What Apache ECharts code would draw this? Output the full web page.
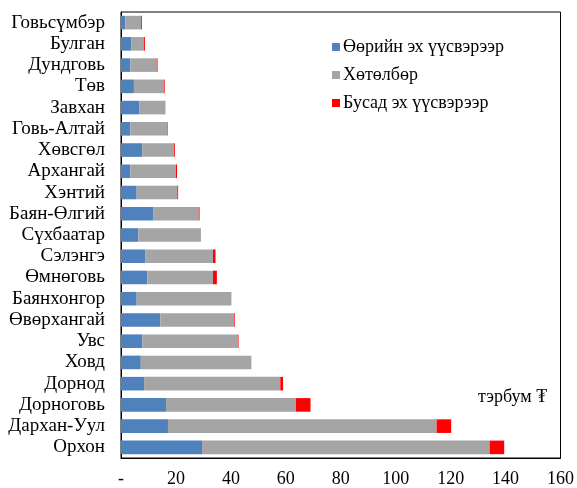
<!DOCTYPE html>
<html>
<head>
<meta charset="utf-8">
<script src="https://cdn.jsdelivr.net/npm/echarts@6/dist/echarts.min.js"></script>
<style>
  body { margin: 0; background: #fff; }
</style>
</head>
<body>
<div id="chart" style="width:577px;height:488px;"></div>
<script>
  // aimag names, top to bottom
  var aimags = ['Говьсүмбэр', 'Булган', 'Дундговь', 'Төв', 'Завхан', 'Говь-Алтай', 'Хөвсгөл',
    'Архангай', 'Хэнтий', 'Баян-Өлгий', 'Сүхбаатар', 'Сэлэнгэ', 'Өмнөговь', 'Баянхонгор',
    'Өвөрхангай', 'Увс', 'Ховд', 'Дорнод', 'Дорноговь', 'Дархан-Уул', 'Орхон'];
  var ownSource = [1.6, 3.7, 3.4, 4.7, 6.6, 3.4, 7.7, 3.4, 5.7, 11.7, 6.3, 8.9, 9.6, 5.7, 14.3, 7.8, 7.2, 8.4, 16.4, 17.1, 29.5];
  var program = [5.7, 4.6, 9.6, 10.9, 9.6, 13.4, 11.6, 16.6, 14.8, 16.6, 22.8, 24.6, 23.9, 34.5, 26.8, 34.8, 40.1, 49.6, 47.3, 97.8, 104.7];
  var otherSource = [0.3, 0.4, 0.3, 0.3, 0, 0.2, 0.3, 0.4, 0.3, 0.3, 0, 0.9, 1.4, 0, 0.3, 0.2, 0.1, 1.0, 5.3, 5.3, 5.3];
  var seriesNames = ['Өөрийн эх үүсвэрээр', 'Хөтөлбөр', 'Бусад эх үүсвэрээр'];
  var colors = ['#4F81BD', '#A5A5A5', '#FF0000'];

  var font = 'Liberation Serif';
  var chart = echarts.init(document.getElementById('chart'));

  var seriesData = [ownSource, program, otherSource];
  var seriesList = [];
  for (var i = 0; i < seriesNames.length; i++) {
    seriesList.push({
      type: 'bar',
      name: seriesNames[i],
      stack: 'total',
      data: seriesData[i],
      barCategoryGap: '36%',
      itemStyle: { color: colors[i] }
    });
  }

  chart.setOption({
    animation: false,
    color: colors,
    grid: {
      left: 121, right: 14, top: 12, bottom: 29,
      show: true, borderColor: '#000', borderWidth: 1
    },
    legend: {
      orient: 'vertical',
      left: 327, top: 32,
      itemWidth: 8, itemHeight: 8, itemGap: 8,
      icon: 'rect',
      textStyle: { fontFamily: font, fontSize: 18, lineHeight: 20, color: '#000', padding: [0, 0, 0, -2] },
      data: seriesNames
    },
    xAxis: {
      type: 'value',
      min: 0, max: 160, interval: 20,
      splitLine: { show: false },
      axisLine: { show: true, lineStyle: { color: '#000' } },
      axisTick: { show: false },
      axisLabel: {
        fontFamily: font, fontSize: 18, color: '#000', margin: 12, hideOverlap: false,
        formatter: function (v) { return v === 0 ? '-' : v; }
      }
    },
    yAxis: {
      type: 'category',
      inverse: true,
      data: aimags,
      axisLine: { show: true, lineStyle: { color: '#000' } },
      axisTick: { show: false },
      axisLabel: { fontFamily: font, fontSize: 19, color: '#000', margin: 16, interval: 0, hideOverlap: false, padding: [3, 0, 0, 0] }
    },
    graphic: [{
      type: 'text',
      left: 478, top: 388,
      style: { text: 'тэрбум ₮', font: '18px "Liberation Serif", "DejaVu Serif"', fill: '#000' }
    }],
    series: seriesList
  });
</script>
</body>
</html>
